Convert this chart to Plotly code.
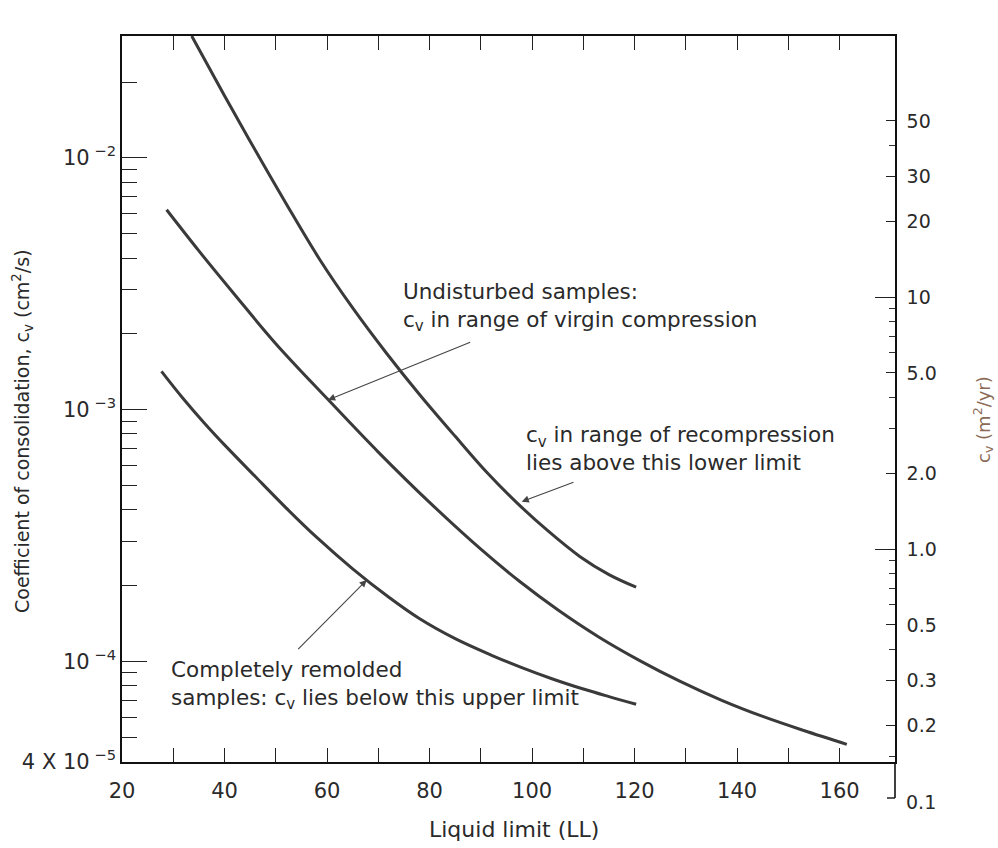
import math
import plotly.graph_objects as go

# ---- data ----
# Upper curve: cv in range of recompression lies above this lower limit
ll_upper = [33.6, 40, 46, 52, 58.6, 65, 71.6, 78, 85, 91.2, 97, 103, 109.3, 115, 120.3]
cv_upper = [3.05e-2, 1.766e-2, 1.072e-2, 6.59e-3, 3.94e-3, 2.535e-3, 1.675e-3, 1.151e-3, 7.83e-4,
            5.62e-4, 4.27e-4, 3.31e-4, 2.61e-4, 2.21e-4, 1.97e-4]

# Middle curve: undisturbed samples, virgin compression
ll_virgin = [28.7, 35, 42, 50, 60.2, 70, 80, 90, 97.6, 105, 113, 121, 128.9, 137, 145, 153, 161.4]
cv_virgin = [6.22e-3, 4.27e-3, 2.86e-3, 1.828e-3, 1.096e-3, 6.78e-4, 4.28e-4, 2.79e-4, 2.075e-4,
             1.603e-4, 1.25e-4, 1.007e-4, 8.32e-5, 7.0e-5, 6.04e-5, 5.31e-5, 4.68e-5]

# Lower curve: completely remolded samples, upper limit
ll_remold = [27.7, 32, 36, 40, 46, 52, 58, 65, 72, 78, 85, 92, 98, 104, 110, 115, 120.3]
cv_remold = [1.419e-3, 1.102e-3, 8.87e-4, 7.24e-4, 5.42e-4, 4.07e-4, 3.105e-4, 2.33e-4, 1.80e-4,
             1.479e-4, 1.23e-4, 1.059e-4, 9.44e-5, 8.51e-5, 7.76e-5, 7.24e-5, 6.75e-5]

# ---- tick labels ----
x_tickvals = list(range(20, 170, 10))
x_ticktext = [str(v) if v % 20 == 0 else "" for v in x_tickvals]

left_major_vals = [4e-5, 1e-4, 1e-3, 1e-2]
left_major_text = ["4 X 10<sup> −5</sup>", "10<sup> −4</sup>", "10<sup> −3</sup>", "10<sup> −2</sup>"]
left_minor_vals = [5e-5, 6e-5, 7e-5, 8e-5, 9e-5,
                   2e-4, 3e-4, 4e-4, 5e-4, 6e-4, 7e-4, 8e-4, 9e-4,
                   2e-3, 3e-3, 4e-3, 5e-3, 6e-3, 7e-3, 8e-3, 9e-3, 2e-2]

right_vals = [0.2, 0.3, 0.5, 1, 2, 5, 10, 20, 30, 50]
right_text = ["0.2", "0.3", "0.5", "1.0", "2.0", "5.0", "10", "20", "30", "50"]
right_minor_vals = [0.15, 0.4, 0.6, 0.7, 0.8, 0.9, 3, 4, 6, 7, 8, 9, 40]
right_long_vals = [1, 10]
right_extra_label = "0.1"

# ---- layout geometry (pixels) ----
W, H = 998, 848
L, R, T, B = 122, 895, 36, 762
pw, ph = R - L, B - T


def px(xp):
    return (xp - L) / pw


def py(yp):
    return (B - yp) / ph


FONT = "DejaVu Sans"
INK = "#2a2a2a"
CURVE = "#3a3a3a"

fig = go.Figure()
for xs, ys, nm in [(ll_upper, cv_upper, "upper"), (ll_virgin, cv_virgin, "virgin"),
                   (ll_remold, cv_remold, "remolded")]:
    fig.add_trace(go.Scatter(x=xs, y=ys, mode="lines", name=nm, showlegend=False,
                             line=dict(color=CURVE, width=3, shape="spline", smoothing=1.0)))

# dummy traces to activate the right-hand axes
fig.add_trace(go.Scatter(x=[None], y=[None], yaxis="y2", showlegend=False))
fig.add_trace(go.Scatter(x=[None], y=[None], yaxis="y3", showlegend=False))

yr_lo = min(-3 - (B - 410) / 252, math.log10(4e-5)) - 0.002
yr_hi = -3 + (410 - T) / 252
y2_lo = 1 - (B - 297) / 252
y2_hi = 1 + (297 - T) / 252

fig.update_layout(
    width=W, height=H,
    margin=dict(l=L, r=W - R, t=T, b=H - B, autoexpand=False),
    paper_bgcolor="white", plot_bgcolor="white",
    font=dict(family=FONT, color=INK, size=20),
    xaxis=dict(range=[20, 20 + pw / 5.126], tickmode="array", tickvals=x_tickvals, ticktext=x_ticktext,
               ticks="inside", ticklen=14, tickwidth=1.3, tickcolor="#222",
               showline=True, linecolor="#111", linewidth=1.6, mirror="ticks",
               showgrid=False, zeroline=False, ticklabelstandoff=9,
               tickfont=dict(size=21, color=INK)),
    yaxis=dict(type="log", range=[yr_lo, yr_hi], tickmode="array",
               tickvals=left_major_vals, ticktext=left_major_text,
               ticks="inside", ticklen=25, tickwidth=1.3, tickcolor="#222",
               minor=dict(tickmode="array", tickvals=left_minor_vals, ticks="inside",
                          ticklen=15, tickwidth=1.2, tickcolor="#222", showgrid=False),
               showline=True, linecolor="#111", linewidth=1.6, showgrid=False, zeroline=False,
               tickfont=dict(size=21, color=INK)),
    yaxis2=dict(type="log", range=[y2_lo, y2_hi], overlaying="y", side="right", anchor="x",
                tickmode="array", tickvals=right_vals, ticktext=right_text,
                ticks="inside", ticklen=9, tickwidth=1.3, tickcolor="#222",
                minor=dict(tickmode="array", tickvals=right_minor_vals, ticks="inside",
                           ticklen=6, tickwidth=1.1, tickcolor="#333", showgrid=False),
                showline=True, linecolor="#111", linewidth=1.6, showgrid=False, zeroline=False,
                ticklabelstandoff=6, tickfont=dict(size=19, color=INK)),
    yaxis3=dict(type="log", range=[y2_lo, y2_hi], overlaying="y", side="right", anchor="x",
                tickmode="array", tickvals=right_long_vals, showticklabels=False,
                ticks="inside", ticklen=20, tickwidth=1.3, tickcolor="#222",
                showline=False, showgrid=False, zeroline=False),
)

# extension of the right scale below the frame down to 0.1
fig.add_shape(type="line", xref="paper", yref="paper", x0=1, x1=1, y0=0, y1=py(798),
              line=dict(color="#111", width=1.6))
fig.add_shape(type="line", xref="paper", yref="paper", x0=px(887), x1=1, y0=py(798), y1=py(798),
              line=dict(color="#111", width=1.4))
fig.add_annotation(xref="paper", yref="paper", x=px(904), y=py(802), text=right_extra_label,
                   showarrow=False, xanchor="left", yanchor="middle",
                   font=dict(size=19, color=INK))

# text blocks
ann_font = dict(family=FONT, size=21.5, color=INK)
fig.add_annotation(xref="paper", yref="paper", x=px(401), y=py(307), xanchor="left", yanchor="middle",
                   align="left", showarrow=False, font=ann_font,
                   text="Undisturbed samples:<br>c<sub>v</sub> in range of virgin compression")
fig.add_annotation(xref="paper", yref="paper", x=px(524), y=py(449), xanchor="left", yanchor="middle",
                   align="left", showarrow=False, font=ann_font,
                   text="c<sub>v</sub> in range of recompression<br>lies above this lower limit")
fig.add_annotation(xref="paper", yref="paper", x=px(169), y=py(685), xanchor="left", yanchor="middle",
                   align="left", showarrow=False, font=ann_font,
                   text="Completely remolded<br>samples: c<sub>v</sub> lies below this upper limit")

# arrows
for hx, hy, tx, ty in [(328, 400, 471.7, 341.7), (521.7, 501.7, 575, 481.7), (366.7, 580, 296.7, 650.7)]:
    fig.add_annotation(xref="paper", yref="paper", x=px(hx), y=py(hy), ax=tx - hx, ay=ty - hy,
                       text="", showarrow=True, arrowhead=2, arrowsize=1.3, arrowwidth=1.1,
                       arrowcolor="#444", standoff=0)

# axis titles
fig.add_annotation(xref="paper", yref="paper", x=px(514), y=py(829), text="Liquid limit (LL)",
                   showarrow=False, xanchor="center", yanchor="middle",
                   font=dict(size=22, color=INK))
fig.add_annotation(xref="paper", yref="paper", x=px(22), y=py(431), textangle=-90,
                   text="Coefficient of consolidation, c<sub>v</sub> (cm<sup>2</sup>/s)",
                   showarrow=False, xanchor="center", yanchor="middle",
                   font=dict(size=19, color=INK))
fig.add_annotation(xref="paper", yref="paper", x=px(983), y=py(420), textangle=-90,
                   text="c<sub>v</sub> (m<sup>2</sup>/yr)",
                   showarrow=False, xanchor="center", yanchor="middle",
                   font=dict(size=18, color="#8b6a55"))

fig.write_html("out.html", config={"displayModeBar": False},
               post_script="document.body.style.margin='0px';")
